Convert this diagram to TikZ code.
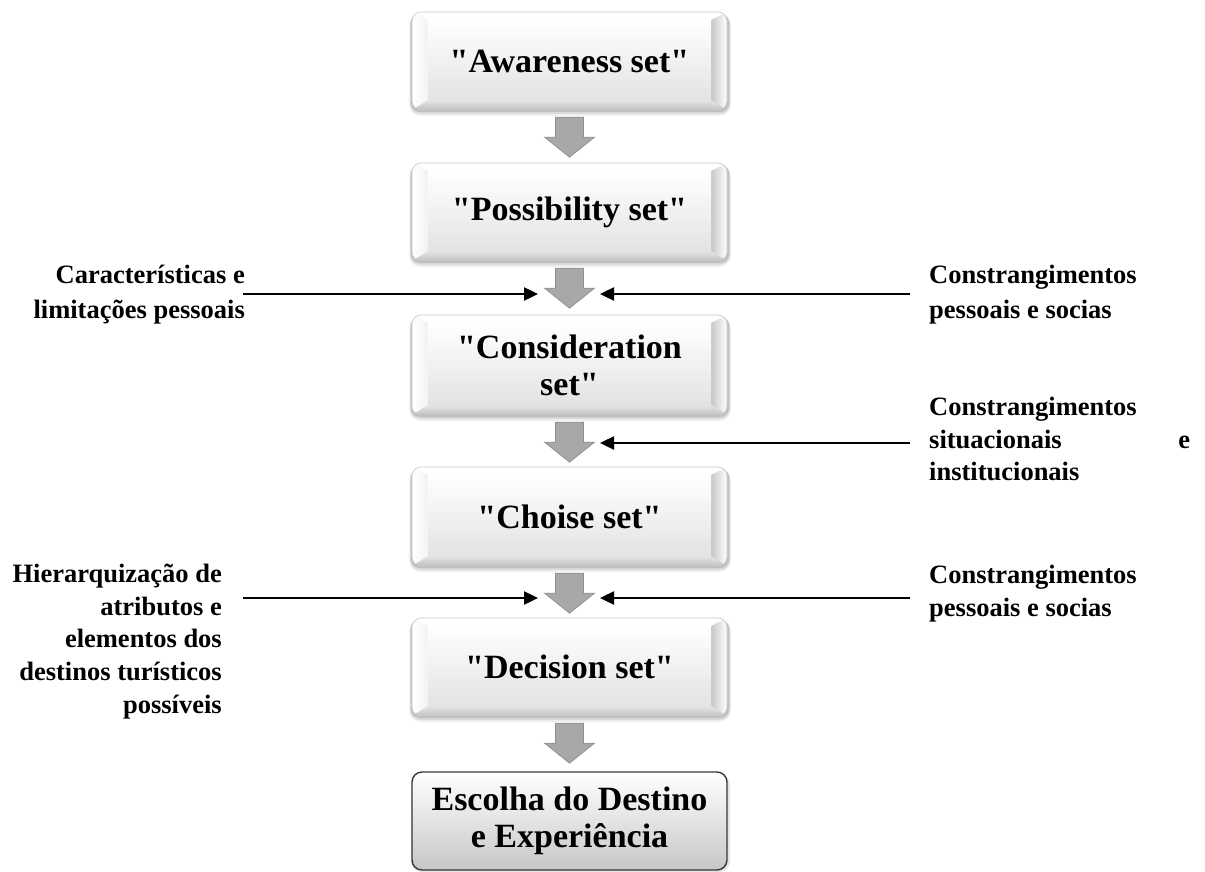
\documentclass[tikz,border=0pt]{standalone}
\usepackage{fontspec}
\setmainfont{Liberation Serif}[Ligatures=TeXOff]
\usetikzlibrary{arrows.meta}
\definecolor{arrowc}{HTML}{A8A8A8}
\definecolor{arrowb}{HTML}{8E8E8E}
\tikzset{
  lab/.style={font=\fontsize{26.5}{33}\selectfont\bfseries, inner sep=0pt},
  boxtext/.style={font=\fontsize{34}{37}\selectfont\bfseries, align=center, inner sep=0pt, minimum width=315pt},
  conn/.style={line width=2.4pt, -{Triangle[length=14pt,width=13pt]}},
  blockarrow/.style={fill=arrowc, draw=arrowb, line width=0.7pt, line join=miter},
}
\newcommand\keybox[4]{%
  \pgfmathsetmacro\kT{#2-#3/2}%
  \pgfmathsetmacro\kB{#2+#3/2}%
  \fill[black,opacity=0.06,rounded corners=12pt] (409,\kT+1) rectangle (731,\kB+6);
  \fill[black,opacity=0.09,rounded corners=10pt] (410,\kT+2) rectangle (730,\kB+4);
  \fill[black,opacity=0.12,rounded corners=9pt] (411,\kT+2) rectangle (729,\kB+2);
  \begin{scope}
    \clip[rounded corners=9pt] (412,\kT) rectangle (727,\kB);
    \fill[white] (412,\kT) rectangle (727,\kB);
    \fill[white] (412,\kT) -- (727,\kT) -- (711,\kT+8) -- (428,\kT+8) -- cycle;
    \shade[left color=white, right color=black!5] (412,\kT) -- (428,\kT+8) -- (428,\kB-10) -- (412,\kB) -- cycle;
    \shade[left color=black!22, right color=white] (727,\kT) -- (727,\kB) -- (711,\kB-10) -- (711,\kT+8) -- cycle;
    \shade[top color=black!10, bottom color=black!24] (412,\kB) -- (428,\kB-10) -- (711,\kB-10) -- (727,\kB) -- cycle;
    \shade[top color=white, bottom color=black!11] (428,\kT+8) rectangle (711,\kB-10);
  \end{scope}
  \draw[black!22, line width=0.6pt, rounded corners=9pt] (412,\kT) rectangle (727,\kB);
  \node[boxtext, minimum height=#3pt] (#1) at (569.5,#2) {#4};
}
\newcommand\blockdown[1]{%
  \path[blockarrow, shift={(#1.south)}] (-14,7) -- (14,7) -- (14,27) -- (25,27) -- (0,47) -- (-25,27) -- (-14,27) -- cycle;
}
\begin{document}
\begin{tikzpicture}[x=1pt,y=-1pt]
\fill[white] (0,0) rectangle (1205,872);
\useasboundingbox (0,0) rectangle (1205,872);

\keybox{b1}{61}{98}{"Awareness set"}
\keybox{b2}{212}{98}{"Possibility set"}
\keybox{b3}{365}{100}{"Consideration\\ set"}
\keybox{b4}{516.5}{99}{"Choise set"}
\keybox{b5}{667}{98}{"Decision set"}

\fill[black,opacity=0.10,rounded corners=11pt] (411,774) rectangle (730,872);
\node[boxtext, minimum height=98pt, draw=black!78, line width=1.4pt, rounded corners=10pt,
      top color=white, bottom color=black!22] (b6) at (569.5,821) {Escolha do Destino\\ e Experiência};

\blockdown{b1}
\blockdown{b2}
\blockdown{b3}
\blockdown{b4}
\blockdown{b5}

% labels
\node[lab, anchor=base east] (l1a) at (245,283) {Características e};
\node[lab, anchor=base east] (l1b) at (245,318) {limitações pessoais};
\node[lab, anchor=base west] (r1a) at (929,283) {Constrangimentos};
\node[lab, anchor=base west] (r1b) at (929,318) {pessoais e socias};
\node[lab, anchor=base west] (r2a) at (929,415) {Constrangimentos};
\node[lab, anchor=base west] (r2b) at (929,448) {\makebox[261pt][l]{situacionais\hfill e}};
\node[lab, anchor=base west] (r2c) at (929,480) {institucionais};
\node[lab, anchor=base east] (l3a) at (222,582) {Hierarquização de};
\node[lab, anchor=base east] (l3b) at (222,615) {atributos e};
\node[lab, anchor=base east] (l3c) at (222,647) {elementos dos};
\node[lab, anchor=base east] (l3d) at (222,680) {destinos turísticos};
\node[lab, anchor=base east] (l3e) at (222,713) {possíveis};
\node[lab, anchor=base west] (r3a) at (929,583) {Constrangimentos};
\node[lab, anchor=base west] (r3b) at (929,616) {pessoais e socias};

% connector ends
\coordinate (a1s) at (243,294); \coordinate (a1e) at (538,294);
\coordinate (a2s) at (910,294); \coordinate (a2e) at (600,294);
\coordinate (a3s) at (910,443); \coordinate (a3e) at (600,443);
\coordinate (a4s) at (243,598); \coordinate (a4e) at (538,598);
\coordinate (a5s) at (910,598); \coordinate (a5e) at (600,598);
\draw[conn] (a1s) -- (a1e);
\draw[conn] (a2s) -- (a2e);
\draw[conn] (a3s) -- (a3e);
\draw[conn] (a4s) -- (a4e);
\draw[conn] (a5s) -- (a5e);
\end{tikzpicture}
\end{document}
